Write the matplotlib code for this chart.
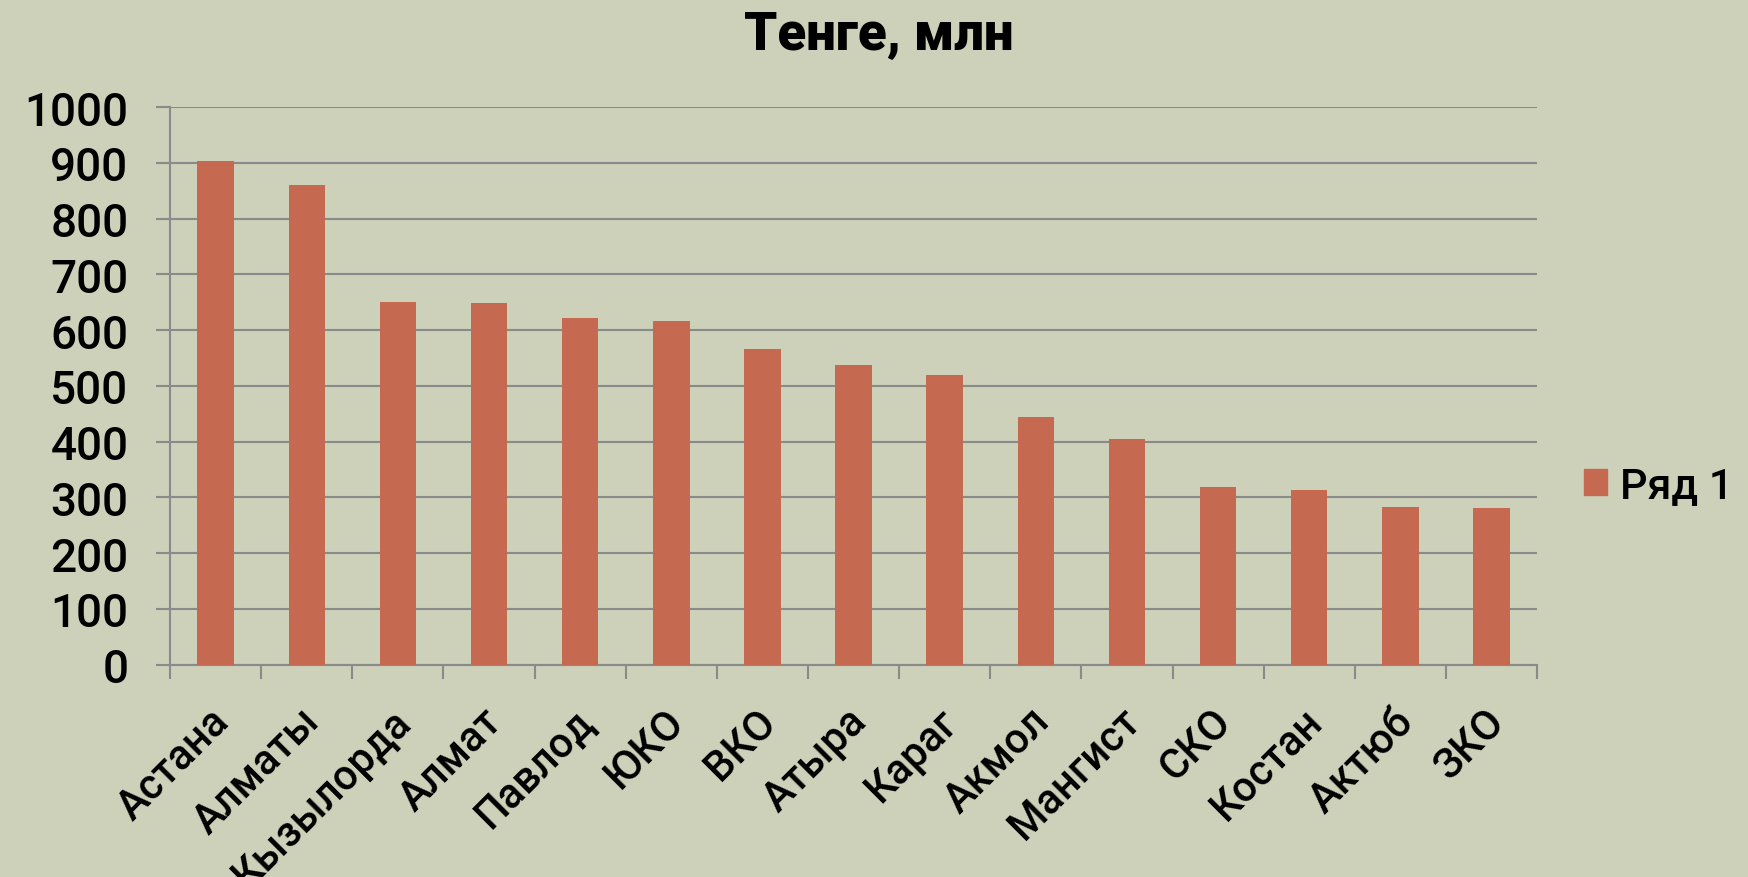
import numpy as np
import matplotlib
matplotlib.use("Agg")
import matplotlib.pyplot as plt
import matplotlib.transforms as mtransforms
from matplotlib.patches import Patch

regions = ["Астана", "Алматы", "Кызылорда", "Алмат", "Павлод", "ЮКО", "ВКО", "Атыра",
           "Караг", "Акмол", "Мангист", "СКО", "Костан", "Актюб", "ЗКО"]
values = [904, 860, 651, 649, 622, 617, 566, 538, 519, 444, 405, 318, 313, 282, 281]
yticks = [0, 100, 200, 300, 400, 500, 600, 700, 800, 900, 1000]
title = "Тенге, млн"
series_name = "Ряд 1"

bg = "#CDD1B9"
bar_color = "#C56950"
grid_color = "#8A8A8A"

plt.rcParams['font.family'] = ['Roboto', 'DejaVu Sans']

fig = plt.figure(figsize=(17.48, 8.78), dpi=100, facecolor=bg)
ax = fig.add_axes([0.0973, 0.242, 0.8793 - 0.0973, 0.8767 - 0.242])
ax.set_facecolor(bg)

x = np.arange(len(regions))
ax.bar(x, values, width=0.4, color=bar_color, zorder=3)

ax.set_xlim(-0.5, len(regions) - 0.5)
ax.set_ylim(0, 1000)
ax.set_yticks(yticks)
ax.set_yticklabels([str(v) for v in yticks], fontsize=33, fontweight='medium')
ax.yaxis.grid(True, color=grid_color, linewidth=1.5, zorder=0)
ax.tick_params(axis='y', length=10, width=1.5, color=grid_color, pad=20)

# category labels at the centres, tick marks at the boundaries
ax.set_xticks(x)
ax.set_xticklabels(regions, fontsize=30, fontweight='medium', rotation=45, ha='right',
                   va='center', rotation_mode='anchor')
ax.tick_params(axis='x', which='major', length=0, pad=36)
shift = mtransforms.ScaledTranslation(7 / 100, 0, fig.dpi_scale_trans)
for lab in ax.get_xticklabels():
    lab.set_transform(lab.get_transform() + shift)
ax.set_xticks(np.arange(len(regions) + 1) - 0.5, minor=True)
ax.tick_params(axis='x', which='minor', length=10, width=1.5, color=grid_color)

for s in ['top', 'right']:
    ax.spines[s].set_visible(False)
for s in ['left', 'bottom']:
    ax.spines[s].set_color(grid_color)
    ax.spines[s].set_linewidth(1.5)

fig.text(0.503, 0.960, title, fontsize=38, fontweight='heavy', ha='center', va='center')

handle = Patch(color=bar_color)
fig.legend([handle], [series_name], loc='center left', bbox_to_anchor=(0.906, 0.446),
           frameon=False, prop={'size': 31, 'weight': 'medium'}, handlelength=0.55,
           handleheight=0.55, handletextpad=0.3, borderaxespad=0, borderpad=0)

fig.savefig("out.png", dpi=100, facecolor=bg)
